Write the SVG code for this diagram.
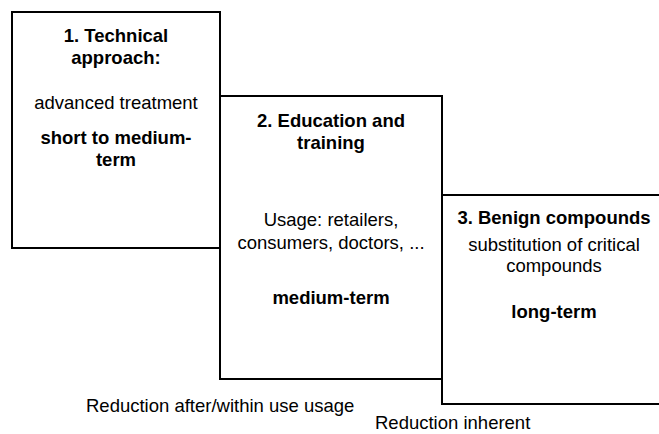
<svg xmlns="http://www.w3.org/2000/svg" width="659" height="434" viewBox="0 0 659 434">
<style>
.box{fill:#fff;stroke:#000;stroke-width:2}
text{font-family:"Liberation Sans",Arial,Helvetica,sans-serif;font-size:18.5px;fill:#000}
.b{font-weight:bold}
.c{text-anchor:middle}
</style>
<rect width="659" height="434" fill="#fff"/>
<g id="node1">
<rect class="box" x="12" y="12" width="208" height="236"/>
<text class="b c" x="116" y="42">1. Technical</text>
<text class="b c" x="116" y="64">approach:</text>
<text class="c" x="116" y="109">advanced treatment</text>
<text class="b c" x="116" y="144">short to medium-</text>
<text class="b c" x="116" y="166">term</text>
</g>
<g id="node2">
<rect class="box" x="220" y="96" width="222" height="283"/>
<text class="b c" x="331" y="127">2. Education and</text>
<text class="b c" x="331" y="149">training</text>
<text class="c" x="331" y="226">Usage: retailers,</text>
<text class="c" x="331" y="249">consumers, doctors, ...</text>
<text class="b c" x="331" y="304">medium-term</text>
</g>
<g id="node3">
<rect class="box" x="442" y="195" width="224" height="209"/>
<text class="b c" x="554" y="224">3. Benign compounds</text>
<text class="c" x="554" y="251">substitution of critical</text>
<text class="c" x="554" y="272">compounds</text>
<text class="b c" x="554" y="318">long-term</text>
</g>
<g id="connectors"></g>
<g id="labels">
<text x="86" y="412">Reduction after/within use usage</text>
<text x="375" y="429">Reduction inherent</text>
</g>
</svg>
